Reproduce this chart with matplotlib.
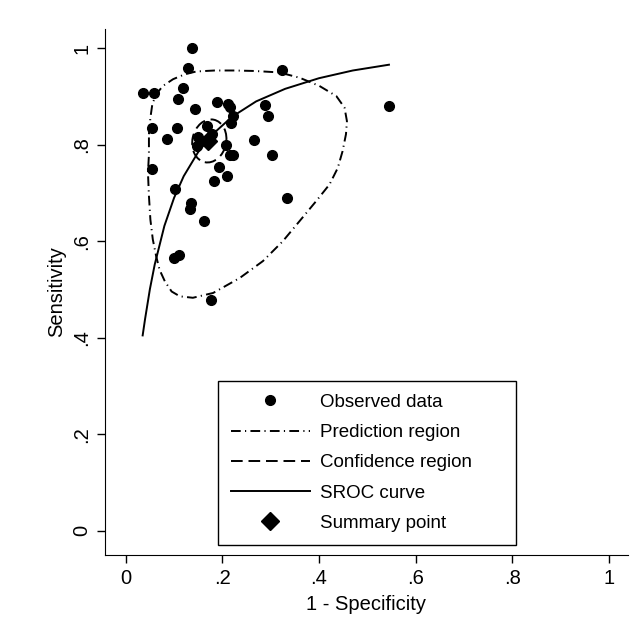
import matplotlib.pyplot as plt
from matplotlib.patches import Ellipse
from matplotlib.lines import Line2D

plt.rcParams['font.family'] = ['Liberation Sans', 'DejaVu Sans']

# observed studies (1 - specificity, sensitivity)
obs_fpr = [0.138, 0.129, 0.323, 0.036, 0.058, 0.118, 0.108, 0.143, 0.189, 0.211,
           0.216, 0.289, 0.295, 0.545, 0.222, 0.218, 0.055, 0.107, 0.085, 0.168,
           0.149, 0.147, 0.207, 0.266, 0.215, 0.223, 0.302, 0.054, 0.194, 0.209,
           0.182, 0.333, 0.102, 0.136, 0.132, 0.161, 0.100, 0.110, 0.176, 0.178]
obs_sens = [1.000, 0.960, 0.955, 0.907, 0.907, 0.917, 0.895, 0.875, 0.889, 0.884,
            0.879, 0.882, 0.860, 0.880, 0.859, 0.846, 0.834, 0.834, 0.813, 0.840,
            0.816, 0.797, 0.799, 0.810, 0.778, 0.778, 0.778, 0.749, 0.754, 0.735,
            0.724, 0.690, 0.709, 0.680, 0.666, 0.642, 0.565, 0.572, 0.478, 0.822]

# summary point
summary_fpr = 0.170
summary_sens = 0.808

# SROC curve
sroc_fpr = [0.035, 0.040, 0.050, 0.060, 0.080, 0.100, 0.120, 0.150, 0.180,
            0.220, 0.270, 0.330, 0.400, 0.470, 0.545]
sroc_sens = [0.405, 0.439, 0.501, 0.552, 0.632, 0.690, 0.735, 0.785, 0.822,
             0.858, 0.890, 0.916, 0.938, 0.954, 0.966]

# prediction region outline
pred_fpr = [0.048, 0.051, 0.055, 0.063, 0.077, 0.098, 0.122, 0.146, 0.184, 0.225,
            0.267, 0.318, 0.360, 0.401, 0.436, 0.453, 0.458, 0.456, 0.449, 0.439,
            0.422, 0.394, 0.360, 0.325, 0.284, 0.236, 0.181, 0.139, 0.112, 0.095,
            0.081, 0.070, 0.063, 0.056, 0.051, 0.048, 0.046, 0.048]
pred_sens = [0.822, 0.856, 0.884, 0.905, 0.922, 0.936, 0.946, 0.952, 0.954, 0.954,
             0.953, 0.950, 0.939, 0.922, 0.901, 0.877, 0.849, 0.822, 0.787, 0.752,
             0.718, 0.683, 0.642, 0.600, 0.559, 0.524, 0.493, 0.483, 0.486, 0.496,
             0.517, 0.541, 0.569, 0.604, 0.645, 0.694, 0.742, 0.780]

# confidence region
conf_center = (0.173, 0.808)
conf_width = 0.070
conf_height = 0.090
conf_angle = -12

ticks = [0, 0.2, 0.4, 0.6, 0.8, 1]
tick_labels = ["0", ".2", ".4", ".6", ".8", "1"]

dashdot = (0, (5, 2.2, 0.6, 2.2))
dashed = (0, (6, 3))

fig = plt.figure(figsize=(6.39, 6.36), dpi=100)
ax = fig.add_axes([0.1643, 0.1274, 0.8185, 0.827])

ax.plot(pred_fpr + pred_fpr[:1], pred_sens + pred_sens[:1], color="black",
        lw=1.4, ls=dashdot, zorder=2)
ax.add_patch(Ellipse(conf_center, conf_width, conf_height, angle=conf_angle,
                     fill=False, ec="black", lw=1.4, ls=dashed, zorder=2))
ax.plot(sroc_fpr, sroc_sens, color="black", lw=1.4, zorder=2)
ax.plot(obs_fpr, obs_sens, "o", color="black", ms=7, zorder=3)
ax.plot([summary_fpr], [summary_sens], "D", color="black", ms=9.5, zorder=4)

ax.set_xlim(-0.043, 1.04)
ax.set_ylim(-0.05, 1.04)
ax.set_xticks(ticks)
ax.set_xticklabels(tick_labels)
ax.set_yticks(ticks)
ax.set_yticklabels(tick_labels, rotation=90, va="center")
ax.spines["top"].set_visible(False)
ax.spines["right"].set_visible(False)
ax.tick_params(direction="out", length=6, width=1, labelsize=14.5, pad=4)
ax.set_xlabel("1 - Specificity", fontsize=14.5, labelpad=5)
ax.set_ylabel("Sensitivity", fontsize=14.5, labelpad=4)

handles = [
    Line2D([], [], ls="none", marker="o", color="black", ms=7),
    Line2D([], [], ls=dashdot, color="black", lw=1.4),
    Line2D([], [], ls=dashed, color="black", lw=1.4),
    Line2D([], [], color="black", lw=1.4),
    Line2D([], [], ls="none", marker="D", color="black", ms=9.5),
]
labels = ["Observed data", "Prediction region", "Confidence region",
          "SROC curve", "Summary point"]
leg = ax.legend(handles, labels, loc="lower left", bbox_to_anchor=(0.216, 0.019, 0.570, 0.3),
                mode="expand", fontsize=13.5, handlelength=4.2, handletextpad=0.55,
                labelspacing=0.7, borderpad=0.7, borderaxespad=0, fancybox=False,
                framealpha=1, edgecolor="black")
leg.get_frame().set_linewidth(1)

fig.savefig("out.png", dpi=100)
